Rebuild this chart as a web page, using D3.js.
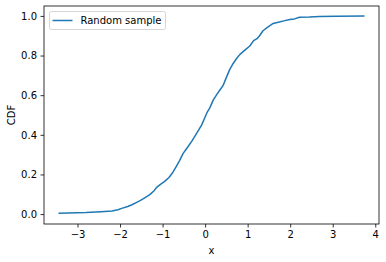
<!DOCTYPE html>
<html>
<head>
<meta charset="utf-8">
<script src="https://d3js.org/d3.v7.min.js"></script>
<style>
  body { margin: 0; background: #fff; }
  svg { font-family: "DejaVu Sans", sans-serif; }
</style>
</head>
<body>
<svg width="386" height="262"></svg>
<script>
// sorted sample values and their cumulative fraction
var sampleX = [-3.43, -2.8, -2.45, -2.19, -2.05, -1.96, -1.82, -1.72, -1.62, -1.53,
  -1.42, -1.30, -1.20, -1.14, -1.05, -0.95, -0.85, -0.76, -0.68, -0.60,
  -0.52, -0.42, -0.32, -0.25, -0.15, -0.08, 0.0, 0.05, 0.11, 0.19,
  0.28, 0.36, 0.42, 0.50, 0.58, 0.66, 0.74, 0.82, 0.92, 1.05,
  1.14, 1.22, 1.28, 1.36, 1.48, 1.60, 1.72, 1.85, 1.99, 2.10,
  2.22, 2.45, 2.69, 3.1, 3.73];
var cdfY = [0.004, 0.008, 0.012, 0.016, 0.022, 0.029, 0.038, 0.047, 0.058, 0.068,
  0.082, 0.098, 0.118, 0.135, 0.150, 0.165, 0.185, 0.210, 0.240, 0.270,
  0.305, 0.335, 0.366, 0.390, 0.425, 0.450, 0.490, 0.515, 0.536, 0.575,
  0.605, 0.630, 0.648, 0.690, 0.730, 0.760, 0.785, 0.806, 0.825, 0.848,
  0.875, 0.885, 0.900, 0.925, 0.945, 0.962, 0.968, 0.975, 0.982, 0.985,
  0.993, 0.994, 0.997, 0.998, 1.0];
var xTicks = [-3, -2, -1, 0, 1, 2, 3, 4];
var yTicks = [0.0, 0.2, 0.4, 0.6, 0.8, 1.0];
var seriesName = "Random sample";

var data = sampleX.map(function(v, i) { return {x: v, y: cdfY[i]}; });

var svg = d3.select("svg");
var margin = {top: 6, right: 7, bottom: 38, left: 44};
var width = +svg.attr("width") - margin.left - margin.right;
var height = +svg.attr("height") - margin.top - margin.bottom;
var g = svg.append("g").attr("transform", "translate(" + margin.left + "," + margin.top + ")");

// matplotlib style 5% padding
var xr = d3.extent(data, function(d) { return d.x; });
var pad = (xr[1] - xr[0]) * 0.05;
var x = d3.scaleLinear().domain([xr[0] - pad, xr[1] + pad]).range([0, width]);
var y = d3.scaleLinear().domain([-0.05, 1.05]).range([height, 0]);

var line = d3.line()
    .x(function(d) { return x(d.x); })
    .y(function(d) { return y(d.y); });

var xAxis = g.append("g")
  .attr("transform", "translate(0," + height + ")")
  .call(d3.axisBottom(x).tickValues(xTicks).tickSize(3.5).tickPadding(3.5).tickFormat(d3.format("d")));

var yAxis = g.append("g")
  .call(d3.axisLeft(y).tickValues(yTicks).tickSize(3.5).tickPadding(3.5).tickFormat(d3.format(".1f")));

[xAxis, yAxis].forEach(function(a) {
  a.select(".domain").remove();
  a.selectAll("text").attr("font-size", 10).attr("fill", "#000").attr("font-family", "DejaVu Sans");
  a.selectAll("line").attr("stroke", "#000").attr("stroke-width", 0.8);
});

// frame
g.append("rect")
  .attr("width", width)
  .attr("height", height)
  .attr("fill", "none")
  .attr("stroke", "#000")
  .attr("stroke-width", 0.8);

g.append("path")
  .datum(data)
  .attr("fill", "none")
  .attr("stroke", "#1f77b4")
  .attr("stroke-width", 1.5)
  .attr("stroke-linejoin", "round")
  .attr("stroke-linecap", "square")
  .attr("d", line);

g.append("text")
  .attr("x", width / 2)
  .attr("y", height + 30)
  .attr("text-anchor", "middle")
  .attr("font-size", 10)
  .text("x");

g.append("text")
  .attr("transform", "rotate(-90)")
  .attr("x", -height / 2)
  .attr("y", -29)
  .attr("text-anchor", "middle")
  .attr("font-size", 10)
  .text("CDF");

// legend
var legend = g.append("g").attr("transform", "translate(5.5,5.5)");
legend.append("rect")
  .attr("width", 116)
  .attr("height", 18)
  .attr("rx", 2)
  .attr("fill", "#fff")
  .attr("fill-opacity", 0.8)
  .attr("stroke", "#ccc")
  .attr("stroke-width", 0.8);
legend.append("line")
  .attr("x1", 3).attr("x2", 23)
  .attr("y1", 9).attr("y2", 9)
  .attr("stroke", "#1f77b4")
  .attr("stroke-width", 1.5);
legend.append("text")
  .attr("x", 31)
  .attr("y", 12.5)
  .attr("font-size", 10)
  .text(seriesName);
</script>
</body>
</html>
